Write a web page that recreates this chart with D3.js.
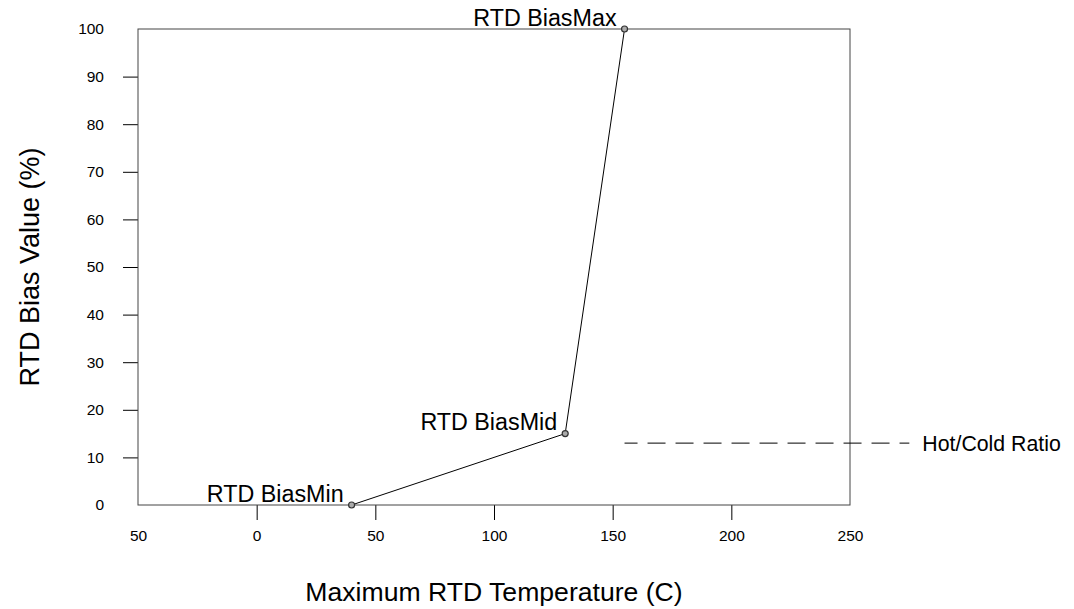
<!DOCTYPE html>
<html lang="en">
<head>
<meta charset="UTF-8">
<title>RTD Bias</title>
<script src="https://cdn.jsdelivr.net/npm/d3@7"></script>
<style>
body { margin: 0; background: #fff; }
text { font-family: 'Liberation Sans', Arial, Helvetica, sans-serif; fill: #000; }
</style>
</head>
<body>
<script>
// bias curve points (temperature C, bias %)
const pointNames = ["RTD BiasMin", "RTD BiasMid", "RTD BiasMax"];
const pointTemps = [40, 130, 155];
const pointBias  = [0, 15, 100];

// hot/cold ratio reference line
const ratioLabel = "Hot/Cold Ratio";
const ratioFrom = 155, ratioTo = 275, ratioValue = 13;

const xTicks = [-50, 0, 50, 100, 150, 200, 250];
const xTickLabels = ["50", "0", "50", "100", "150", "200", "250"];
const yTicks = [0, 10, 20, 30, 40, 50, 60, 70, 80, 90, 100];

const width = 1074, height = 609;
const svg = d3.select("body").append("svg")
    .attr("width", width)
    .attr("height", height);

const x = d3.scaleLinear().domain([-50, 250]).range([138, 850]);
const y = d3.scaleLinear().domain([0, 100]).range([505, 29]);

// axes - the end ticks sit on the box, no tick line there
const xAxis = svg.append("g")
    .attr("transform", `translate(0,${y(0)})`)
    .call(d3.axisBottom(x).tickValues(xTicks)
        .tickFormat((d, i) => xTickLabels[i])
        .tickSize(15).tickPadding(10));
const yAxis = svg.append("g")
    .attr("transform", `translate(${x(-50)},0)`)
    .call(d3.axisLeft(y).tickValues(yTicks).tickSize(15).tickPadding(19));

[xAxis, yAxis].forEach(a => {
    a.select(".domain").remove();
    a.selectAll(".tick text").style("font-size", "15.5px").attr("fill", "#000");
    a.selectAll(".tick line").attr("stroke", "#000");
});
xAxis.selectAll(".tick").filter(d => d == -50 || d == 250).select("line").remove();
yAxis.selectAll(".tick").filter(d => d == 0 || d == 100).select("line").remove();

// plot box
svg.append("rect")
    .attr("x", x(-50)).attr("y", y(100))
    .attr("width", x(250) - x(-50)).attr("height", y(0) - y(100))
    .attr("fill", "none").attr("stroke", "#444").attr("stroke-width", 1);

// curve
const pts = pointTemps.map((t, i) => ({ name: pointNames[i], t: t, b: pointBias[i] }));
svg.append("path")
    .datum(pts)
    .attr("fill", "none")
    .attr("stroke", "#000")
    .attr("stroke-width", 1)
    .attr("d", d3.line().x(d => x(d.t)).y(d => y(d.b)));

svg.selectAll("circle.pt").data(pts).enter().append("circle")
    .attr("class", "pt")
    .attr("cx", d => x(d.t)).attr("cy", d => y(d.b))
    .attr("r", 3)
    .attr("fill", "#aaa").attr("stroke", "#333").attr("stroke-width", 1.2);

svg.selectAll("text.pt").data(pts).enter().append("text")
    .attr("class", "pt")
    .attr("x", d => x(d.t) - 8).attr("y", d => y(d.b) - 3.5)
    .attr("text-anchor", "end")
    .style("font-size", "23.3px")
    .text(d => d.name);

// hot/cold ratio
svg.append("line")
    .attr("x1", x(ratioFrom)).attr("x2", x(ratioTo))
    .attr("y1", y(ratioValue)).attr("y2", y(ratioValue))
    .attr("stroke", "#000").attr("stroke-width", 1)
    .attr("stroke-dasharray", "18,10")
    .attr("stroke-dashoffset", 5);
svg.append("text")
    .attr("x", x(ratioTo) + 13).attr("y", y(ratioValue))
    .attr("dy", "0.35em")
    .style("font-size", "21.3px")
    .text(ratioLabel);

// axis titles
svg.append("text")
    .attr("x", x(100)).attr("y", 601)
    .attr("text-anchor", "middle")
    .style("font-size", "26.6px")
    .text("Maximum RTD Temperature (C)");
svg.append("text")
    .attr("transform", `translate(39,${(y(0) + y(100)) / 2}) rotate(-90)`)
    .attr("text-anchor", "middle")
    .style("font-size", "27px")
    .text("RTD Bias Value (%)");
</script>
</body>
</html>
